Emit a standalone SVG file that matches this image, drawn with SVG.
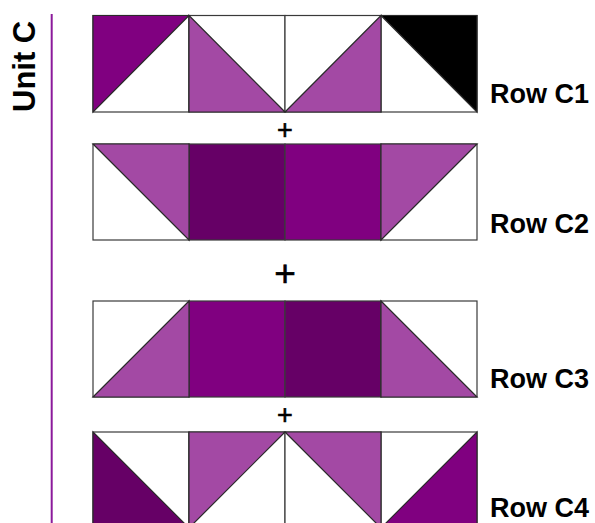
<svg xmlns="http://www.w3.org/2000/svg" width="595" height="523" viewBox="0 0 595 523">
<style>
.sq{stroke:#3a3a3a;stroke-width:1.2;fill:#ffffff}
.tri{stroke:#2a2a2a;stroke-width:1.2;stroke-linejoin:miter}
.p{fill:#800080}
.d{fill:#660066}
.l{fill:#a349a4}
.k{fill:#000000}
.lbl{font-family:"Liberation Sans",Arial,sans-serif;font-weight:bold;font-size:27px;fill:#000}
.plus{font-family:"Liberation Sans",Arial,sans-serif;fill:#000;stroke:#000;stroke-width:0.6;text-anchor:middle}
</style>
<rect width="595" height="523" fill="#ffffff"/>
<g id="unit-label">
<text class="lbl" style="font-size:31px" transform="translate(34.5,112) rotate(-90)">Unit C</text>
<line x1="51.7" y1="14" x2="51.7" y2="523" stroke="#8b1a9b" stroke-width="2"/>
</g>
<g id="row-c1">
<rect class="sq" x="93" y="15.5" width="96" height="96.5"/>
<rect class="sq" x="189" y="15.5" width="96" height="96.5"/>
<rect class="sq" x="285" y="15.5" width="96" height="96.5"/>
<rect class="sq" x="381" y="15.5" width="96" height="96.5"/>
<polygon class="tri p" points="93,15.5 189,15.5 93,112"/>
<polygon class="tri l" points="189,15.5 285,112 189,112"/>
<polygon class="tri l" points="381,15.5 381,112 285,112"/>
<polygon class="tri k" points="381,15.5 477,15.5 477,112"/>
<text class="lbl" x="490" y="103">Row C1</text>
</g>
<g id="row-c2">
<rect class="sq" x="93" y="144" width="96" height="96"/>
<rect class="sq d" x="189" y="144" width="96" height="96"/>
<rect class="sq p" x="285" y="144" width="96" height="96"/>
<rect class="sq" x="381" y="144" width="96" height="96"/>
<polygon class="tri l" points="93,144 189,144 189,240"/>
<polygon class="tri l" points="381,144 477,144 381,240"/>
<text class="lbl" x="490" y="233">Row C2</text>
</g>
<g id="row-c3">
<rect class="sq" x="93" y="301" width="96" height="96"/>
<rect class="sq p" x="189" y="301" width="96" height="96"/>
<rect class="sq d" x="285" y="301" width="96" height="96"/>
<rect class="sq" x="381" y="301" width="96" height="96"/>
<polygon class="tri l" points="189,301 189,397 93,397"/>
<polygon class="tri l" points="381,301 477,397 381,397"/>
<text class="lbl" x="490" y="388">Row C3</text>
</g>
<g id="row-c4">
<rect class="sq" x="93" y="432" width="96" height="96"/>
<rect class="sq" x="189" y="432" width="96" height="96"/>
<rect class="sq" x="285" y="432" width="96" height="96"/>
<rect class="sq" x="381" y="432" width="96" height="96"/>
<polygon class="tri d" points="93,432 189,528 93,528"/>
<polygon class="tri l" points="189,432 285,432 189,528"/>
<polygon class="tri l" points="285,432 381,432 381,528"/>
<polygon class="tri p" points="477,432 477,528 381,528"/>
<text class="lbl" x="490" y="517">Row C4</text>
</g>
<g id="connectors">
<text class="plus" x="285" y="139" font-size="27">+</text>
<text class="plus" x="285" y="285.5" font-size="37">+</text>
<text class="plus" x="285" y="423.5" font-size="27">+</text>
</g>
</svg>
